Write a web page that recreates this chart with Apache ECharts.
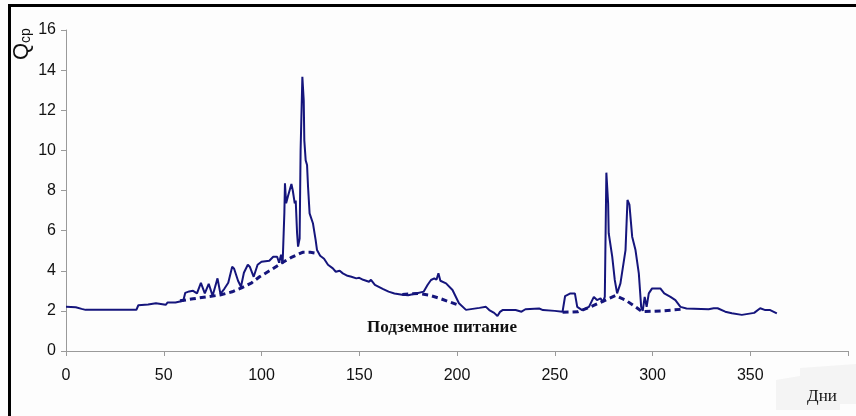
<!DOCTYPE html>
<html><head><meta charset="utf-8">
<script src="https://cdn.jsdelivr.net/npm/echarts@6/dist/echarts.min.js"></script>
<style>html,body{margin:0;padding:0;background:#fdfdfd}#c{width:856px;height:416px}</style>
</head><body><div id="c"></div>
<script>
// Flow line (days, Qср)
const flowDays = [0,5,8,10,36,37,42,43,46,47,51,52,56,57,60,61,63,65,67,69,71,73,75,76,77.5,79,81,83,85,86,88,89.5,91,93,94,96,98,100,104,106,108,109,110,110.8,111.5,111.7,112,112.6,113.5,115.3,116,117,117.5,118.2,118.7,119.5,120,120.9,121.6,121.9,122.6,123.3,123.8,124.6,126.3,127.7,128.4,130,132,134,136.5,138,140,141.6,144,146,148.5,150,152,155,156,158,160,162,165,168,172,175,179,183,185,186.7,188.4,189.5,190.5,191.5,194.4,197.7,201,204.6,208,211.5,214.8,216.5,219,220.7,222,223.3,230,233,235,242,244,250,254,255.3,258,260.3,261.5,264,267.5,270,271.6,273.4,274.6,275.6,276.4,277.3,277.6,279.4,280.7,281.9,283.6,286.2,287.2,288.2,289.6,291.3,293,294.2,295,296,297,298.1,299.8,304,306,309.2,311.7,314.3,317.4,328.7,331.3,333.3,337.2,340.6,345.7,346.5,352,355.1,357.7,360.2,363.6];
const flowValues = [2.2,2.18,2.1,2.05,2.05,2.28,2.32,2.39,2.38,2.3,2.3,2.42,2.42,2.47,2.5,2.9,2.97,3.0,2.87,3.4,2.87,3.35,2.75,3.1,3.62,2.85,3.1,3.4,4.2,4.1,3.5,3.2,3.9,4.3,4.2,3.7,4.3,4.45,4.5,4.7,4.7,4.4,4.8,4.35,4.4,6.9,8.36,7.36,7.7,8.32,8.0,7.36,7.5,5.87,5.2,5.6,10.0,13.67,12.5,10.5,9.5,9.27,8.2,6.86,6.37,5.53,5.03,4.75,4.6,4.3,4.12,3.95,4.0,3.87,3.75,3.7,3.62,3.65,3.55,3.45,3.55,3.3,3.2,3.1,2.96,2.87,2.8,2.78,2.87,2.96,3.3,3.54,3.62,3.55,3.87,3.5,3.37,3.04,2.38,2.05,2.1,2.15,2.2,2.04,1.9,1.74,1.95,2.04,2.04,1.96,2.08,2.12,2.04,2.0,1.96,2.74,2.87,2.87,2.2,2.04,2.2,2.7,2.54,2.62,2.45,2.7,8.89,7.36,5.87,4.7,3.54,2.87,3.37,5.03,7.53,7.3,5.7,5.03,3.87,2.2,2.0,2.7,2.2,2.87,3.12,3.12,2.87,2.7,2.54,2.2,2.12,2.08,2.13,2.13,1.96,1.88,1.8,1.88,1.9,2.13,2.04,2.04,1.88];
// Underground (base) flow segments
const baseDays1 = [58.3,65,72,78.7,85,89.8,95,99,105,110,115,121,125,128];
const baseVals1 = [2.5,2.6,2.7,2.79,2.95,3.15,3.4,3.7,4.05,4.37,4.65,4.92,4.92,4.87];
const baseDays2 = [172,180,186,191,196,201];
const baseVals2 = [2.82,2.87,2.78,2.63,2.45,2.28];
const baseDays3 = [254,262,268.4,276,281,286.2,291.3,294.7,305,315];
const baseVals3 = [1.93,1.96,2.2,2.54,2.76,2.54,2.2,1.96,2.0,2.08];
const xTicks = [0,50,100,150,200,250,300,350];
const yTicks = [0,2,4,6,8,10,12,14,16];
const baseLabel = 'Подземное питание';
const xName = 'Дни';

const zip = (a,b) => a.map((d,i)=>[d,b[i]]);
const chart = echarts.init(document.getElementById('c'), null, {renderer:'canvas'});
const lineCol = '#15157c';
const dashStyle = {color: lineCol, width: 3, type: [6,4]};
const baseSeries = [[baseDays1,baseVals1],[baseDays2,baseVals2],[baseDays3,baseVals3]].map(([d,v]) => ({
  type:'line', data: zip(d,v), showSymbol:false, lineStyle: dashStyle, z: 3, animation:false
}));
chart.setOption({
  animation:false,
  backgroundColor:'#fdfdfd',
  grid:{left:66, right:8, top:30, bottom:65},
  xAxis:{type:'value', min:0, max:400, interval:50,
    axisLine:{lineStyle:{color:'#9a9a9a', width:1}},
    axisTick:{show:true, length:5, lineStyle:{color:'#9a9a9a'}},
    splitLine:{show:false},
    axisLabel:{fontFamily:'Liberation Sans, Arial', fontSize:16, color:'#111', margin:17,
      formatter: v => xTicks.includes(v) ? String(v) : ''}
  },
  yAxis:{type:'value', min:0, max:16, interval:2,
    axisLine:{show:true, lineStyle:{color:'#9a9a9a', width:1}},
    axisTick:{show:true, length:5, lineStyle:{color:'#9a9a9a'}},
    splitLine:{show:false},
    axisLabel:{fontFamily:'Liberation Sans, Arial', fontSize:16, color:'#111', margin:10,
      formatter: v => yTicks.includes(v) ? String(v) : ''}
  },
  series:[
    {type:'line', data: zip(flowDays, flowValues), showSymbol:false, lineStyle:{color:lineCol, width:2}, z:4}
  ].concat(baseSeries),
  graphic:[
    {type:'rect', shape:{x:8, y:4, width:848, height:3}, style:{fill:'#000'}, silent:true},
    {type:'rect', shape:{x:8, y:4, width:3, height:412}, style:{fill:'#000'}, silent:true},
    {type:'polygon', shape:{points:[[776,380],[800,376],[800,368],[856,364],[856,404],[840,404],[840,410],[776,410]]}, style:{fill:'#f4f4f4'}, silent:true, z:-1},
    {type:'text', x:822, y:397, style:{text:xName, font:'17px "Liberation Serif", "Times New Roman", serif', fill:'#111', textAlign:'center', textVerticalAlign:'middle'}},
    {type:'text', x:442, y:328, style:{text:baseLabel, font:'bold 17px "Liberation Serif", "Times New Roman", serif', fill:'#111', textAlign:'center', textVerticalAlign:'middle'}},
    {type:'text', x:33, y:60, rotation:Math.PI/2, style:{text:'{a|Q}{b|ср}', textAlign:'left', textVerticalAlign:'bottom',
      rich:{a:{font:'22px "Liberation Sans", Arial, sans-serif', fill:'#111'}, b:{font:'14px "Liberation Sans", Arial, sans-serif', fill:'#111', verticalAlign:'bottom'}}}}
  ]
});
</script></body></html>
